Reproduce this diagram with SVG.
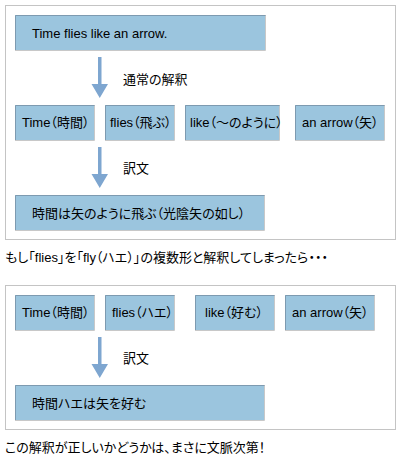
<svg xmlns="http://www.w3.org/2000/svg" width="400" height="460" viewBox="0 0 400 460">
<defs>
<style>
text{font-family:"Liberation Sans","Noto Sans CJK JP",sans-serif;font-size:13px;fill:#000;dominant-baseline:central;font-feature-settings:"palt"}
.panel{fill:#fff;stroke:#c4c4c4;stroke-width:1}
.box{fill:#9bc5de}
.hi{fill:none;stroke:#7d9ab0;stroke-width:1}
.lo{fill:none;stroke:#c8c8c8;stroke-width:1}
.arr{fill:#7ea6d0}
</style>
</defs>
<rect width="400" height="460" fill="#fff"/>
<rect class="panel" x="5.5" y="5.5" width="390" height="234"/>
<rect class="panel" x="5.5" y="285.5" width="390" height="144"/>

<g id="connectors">
<path class="arr" d="M98,57h3.5v27h6.5l-8.25,14l-8.25,-14h6.5z"/>
<path class="arr" d="M98,147h3.5v27h6.5l-8.25,14l-8.25,-14h6.5z"/>
<path class="arr" d="M98,337h3.5v27h6.5l-8.25,14l-8.25,-14h6.5z"/>
<text x="123" y="79">通常の解釈</text>
<text x="123" y="168">訳文</text>
<text x="123" y="358">訳文</text>
</g>

<g id="n-sentence">
<rect class="box" x="15" y="15" width="251" height="35"/>
<path class="hi" d="M15.5,50V15.5H266"/><path class="lo" d="M265.5,15.5V50.5H15"/>
<text x="32" y="33">Time flies like an arrow.</text>
</g>

<g id="n-time1">
<rect class="box" x="15" y="105" width="80" height="35"/>
<path class="hi" d="M15.5,140V105.5H95"/><path class="lo" d="M94.5,105.5V140.5H15"/>
<text x="22" y="122">Time（時間）</text>
</g>
<g id="n-flies1">
<rect class="box" x="105" y="105" width="70" height="35"/>
<path class="hi" d="M105.5,140V105.5H175"/><path class="lo" d="M174.5,105.5V140.5H105"/>
<text x="110" y="122">flies（飛ぶ）</text>
</g>
<g id="n-like1">
<rect class="box" x="185" y="105" width="95" height="35"/>
<path class="hi" d="M185.5,140V105.5H280"/><path class="lo" d="M279.5,105.5V140.5H185"/>
<text x="190" y="122">like（～のように）</text>
</g>
<g id="n-arrow1">
<rect class="box" x="295" y="105" width="90" height="35"/>
<path class="hi" d="M295.5,140V105.5H385"/><path class="lo" d="M384.5,105.5V140.5H295"/>
<text x="302" y="122">an arrow（矢）</text>
</g>

<g id="n-trans1">
<rect class="box" x="15" y="195" width="250" height="35"/>
<path class="hi" d="M15.5,230V195.5H265"/><path class="lo" d="M264.5,195.5V230.5H15"/>
<text x="32" y="213">時間は矢のように飛ぶ（光陰矢の如し）</text>
</g>

<text x="5" y="257">もし「flies」を「fly（ハエ）」の複数形と解釈してしまったら・・・</text>

<g id="n-time2">
<rect class="box" x="15" y="295" width="80" height="35"/>
<path class="hi" d="M15.5,330V295.5H95"/><path class="lo" d="M94.5,295.5V330.5H15"/>
<text x="22" y="312">Time（時間）</text>
</g>
<g id="n-flies2">
<rect class="box" x="105" y="295" width="70" height="35"/>
<path class="hi" d="M105.5,330V295.5H175"/><path class="lo" d="M174.5,295.5V330.5H105"/>
<text x="112" y="312">flies（ハエ）</text>
</g>
<g id="n-like2">
<rect class="box" x="195" y="295" width="80" height="35"/>
<path class="hi" d="M195.5,330V295.5H275"/><path class="lo" d="M274.5,295.5V330.5H195"/>
<text x="205" y="312">like（好む）</text>
</g>
<g id="n-arrow2">
<rect class="box" x="285" y="295" width="90" height="35"/>
<path class="hi" d="M285.5,330V295.5H375"/><path class="lo" d="M374.5,295.5V330.5H285"/>
<text x="292" y="312">an arrow（矢）</text>
</g>

<g id="n-trans2">
<rect class="box" x="15" y="385" width="250" height="35"/>
<path class="hi" d="M15.5,420V385.5H265"/><path class="lo" d="M264.5,385.5V420.5H15"/>
<text x="32" y="403">時間ハエは矢を好む</text>
</g>

<text x="5" y="447">この解釈が正しいかどうかは、まさに文脈次第！</text>
</svg>
